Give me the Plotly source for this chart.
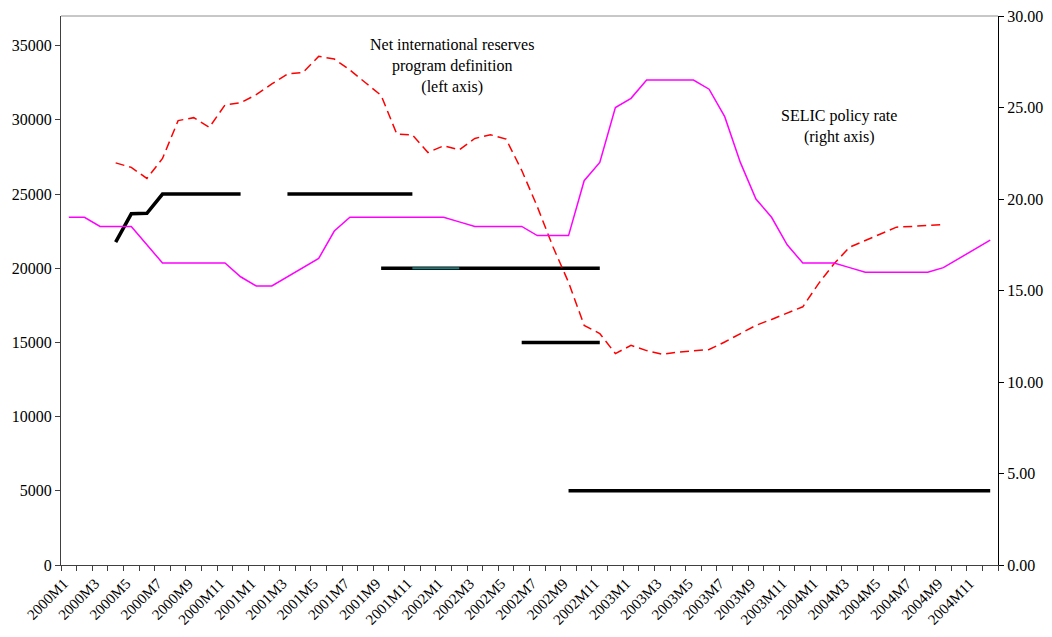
import plotly.graph_objects as go

months = [f"{y}M{m}" for y in range(2000, 2005) for m in range(1, 13)]

selic = [19.0, 19.0, 18.5, 18.5, 18.5, 17.5, 16.5, 16.5, 16.5, 16.5, 16.5, 15.75,
         15.25, 15.25, 15.75, 16.25, 16.75, 18.25, 19.0, 19.0, 19.0, 19.0, 19.0, 19.0,
         19.0, 18.75, 18.5, 18.5, 18.5, 18.5, 18.0, 18.0, 18.0, 21.0, 22.0, 25.0,
         25.5, 26.5, 26.5, 26.5, 26.5, 26.0, 24.5, 22.0, 20.0, 19.0, 17.5, 16.5,
         16.5, 16.5, 16.25, 16.0, 16.0, 16.0, 16.0, 16.0, 16.25, 16.75, 17.25, 17.75]

nir = [None, None, None, 27100, 26800, 26050, 27400, 29950, 30150, 29500, 31000, 31150,
       31700, 32420, 33090, 33200, 34280, 34100, 33360, 32500, 31650, 29050, 28990, 27800,
       28250, 27980, 28750, 29000, 28700, 26600, 24150, 21450, 19050, 16150, 15600, 14250,
       14800, 14450, 14200, 14350, 14450, 14520, 15030, 15600, 16150, 16550, 16950, 17400,
       18950, 20300, 21420, 21870, 22320, 22770, 22820, 22880, 22950, None, None, None]

floor_a = [None] * 3 + [21760, 23670, 23700, 25000, 25000, 25000, 25000, 25000, 25000] + [None] * 48
floor_b = [None] * 14 + [25000] * 9 + [None] * 37
floor_c = [None] * 20 + [20000] * 15 + [None] * 25
floor_teal = [None] * 22 + [20000] * 4 + [None] * 34
floor_d = [None] * 29 + [15000] * 6 + [None] * 25
floor_e = [None] * 32 + [5000] * 28

tick_text = [m if i % 2 == 0 else "" for i, m in enumerate(months)]

FONT = "Liberation Serif, Times New Roman, serif"

fig = go.Figure()

for fl in [floor_a, floor_b, floor_c, floor_d, floor_e]:
    fig.add_trace(go.Scatter(x=months, y=fl, mode="lines",
                             line=dict(color="black", width=3.5),
                             connectgaps=False, hoverinfo="skip"))
fig.add_trace(go.Scatter(x=months, y=floor_teal, mode="lines",
                         line=dict(color="#1F7A7A", width=2.2), hoverinfo="skip"))

fig.add_trace(go.Scatter(x=months, y=nir, mode="lines",
                         line=dict(color="#FF0000", width=1.5, dash="9px,5px")))

fig.add_trace(go.Scatter(x=months, y=selic, mode="lines", yaxis="y2",
                         line=dict(color="#FF00FF", width=1.5)))

fig.update_layout(
    width=1052, height=637,
    margin=dict(l=61, r=54, t=16, b=72, autoexpand=False),
    paper_bgcolor="white", plot_bgcolor="white",
    showlegend=False,
    font=dict(family=FONT, size=16, color="black"),
    xaxis=dict(type="category", categoryorder="array", categoryarray=months,
               range=[-0.5, 59.5], tickmode="array", tickvals=months, ticktext=tick_text,
               tickson="boundaries", ticks="outside", ticklen=5, tickcolor="#404040",
               tickangle=-45, tickfont=dict(family=FONT, size=15),
               ticklabelshift=-5, ticklabelstandoff=3, automargin=False,
               showline=True, linecolor="#404040", linewidth=1,
               showgrid=False, zeroline=False),
    yaxis=dict(range=[0, 37000], tick0=0, dtick=5000, tickformat="d", automargin=False,
               ticks="outside", ticklen=5, tickcolor="#404040",
               showline=True, linecolor="#404040", linewidth=1,
               showgrid=False, zeroline=False, tickfont=dict(family=FONT, size=16)),
    yaxis2=dict(range=[0, 30], tick0=0, dtick=5, tickformat=".2f", automargin=False,
                overlaying="y", side="right",
                ticks="outside", ticklen=5, tickcolor="black",
                showline=True, linecolor="black", linewidth=1.3,
                showgrid=False, zeroline=False, tickfont=dict(family=FONT, size=16)),
    shapes=[dict(type="line", xref="paper", yref="paper", x0=0, x1=1, y0=1, y1=1,
                 line=dict(color="#909090", width=1))],
    annotations=[
        dict(xref="paper", yref="paper", x=0.4175, y=0.909,
             text="Net international reserves<br>program definition<br>(left axis)",
             showarrow=False, align="center", xanchor="center", yanchor="middle",
             font=dict(family=FONT, size=16)),
        dict(xref="paper", yref="paper", x=0.830, y=0.798,
             text="SELIC policy rate<br>(right axis)",
             showarrow=False, align="center", xanchor="center", yanchor="middle",
             font=dict(family=FONT, size=16)),
    ],
)

fig.write_html("out.html", config={"displayModeBar": False},
               post_script="document.body.style.margin='0px';")
